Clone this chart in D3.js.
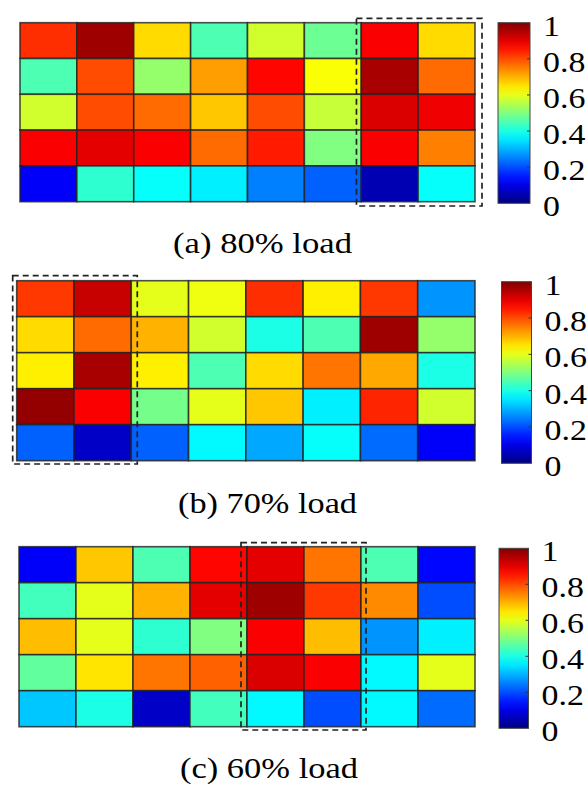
<!DOCTYPE html>
<html>
<head>
<meta charset="utf-8">
<script src="https://cdn.jsdelivr.net/npm/d3@7"></script>
<style>
  body { margin: 0; background: #fff; }
  svg text { font-family: "Liberation Serif", "Times New Roman", serif; fill: #000; }
</style>
</head>
<body>
<div id="chart"></div>
<script>
// values, rows top -> bottom, columns left -> right
var load80 = [
  [0.83, 0.97, 0.66, 0.45, 0.58, 0.48, 0.88, 0.66],
  [0.45, 0.80, 0.52, 0.72, 0.87, 0.62, 0.96, 0.77],
  [0.58, 0.80, 0.77, 0.68, 0.80, 0.57, 0.91, 0.89],
  [0.88, 0.90, 0.88, 0.77, 0.85, 0.50, 0.88, 0.75],
  [0.12, 0.42, 0.38, 0.36, 0.25, 0.22, 0.05, 0.38]
];
var load70 = [
  [0.82, 0.93, 0.60, 0.61, 0.83, 0.64, 0.82, 0.27],
  [0.66, 0.77, 0.70, 0.58, 0.40, 0.45, 0.97, 0.52],
  [0.64, 0.96, 0.64, 0.45, 0.66, 0.76, 0.71, 0.40],
  [0.98, 0.88, 0.49, 0.60, 0.68, 0.36, 0.84, 0.58],
  [0.22, 0.07, 0.22, 0.37, 0.29, 0.38, 0.23, 0.12]
];
var load60 = [
  [0.12, 0.68, 0.45, 0.87, 0.90, 0.76, 0.45, 0.13],
  [0.44, 0.60, 0.70, 0.90, 0.97, 0.82, 0.74, 0.20],
  [0.69, 0.60, 0.42, 0.50, 0.88, 0.69, 0.27, 0.36],
  [0.47, 0.65, 0.76, 0.78, 0.91, 0.88, 0.37, 0.60],
  [0.32, 0.40, 0.07, 0.44, 0.37, 0.20, 0.37, 0.23]
];
var captions = ["(a) 80% load", "(b) 70% load", "(c) 60% load"];
var highlightCols = [[6, 7], [0, 1], [4, 5]];   // dashed box columns
var colorTicks = [0, 0.2, 0.4, 0.6, 0.8, 1];

var W = 587, H = 787;
var stretch = 1.13;   // text in the figure is a bit wide

// MATLAB jet
function jet(t) {
  var c = function (v) { return Math.max(0, Math.min(1, v)); };
  var r = c(1.5 - Math.abs(4 * t - 3)),
      g = c(1.5 - Math.abs(4 * t - 2)),
      b = c(1.5 - Math.abs(4 * t - 1));
  return d3.rgb(r * 255, g * 255, b * 255).toString();
}
var color = d3.scaleSequential(jet).domain([0, 1]);

var svg = d3.select("#chart").append("svg")
  .attr("width", W).attr("height", H);

var grad = svg.append("defs").append("linearGradient").attr("id", "jetgrad")
  .attr("x1", 0).attr("y1", 1).attr("x2", 0).attr("y2", 0);
d3.range(0, 1.0001, 0.05).forEach(function (t) {
  grad.append("stop").attr("offset", t).attr("stop-color", color(t));
});

// panel geometry
var panels = [
  { data: load80, x0: 20, x1: 475, y0: 22.7, y1: 201.7, box: [-4.8, 7, 4.4, 4.3],
    cb: [498, 530, 22.7, 203.3], capX: 173, capY: 253, capW: 179 },
  { data: load70, x0: 16.7, x1: 475, y0: 280.7, y1: 460.7, box: [-4, 6, 5, 3.3],
    cb: [501.5, 531.5, 281.7, 463.3], capX: 178, capY: 513, capW: 179 },
  { data: load60, x0: 19, x1: 475, y0: 546.7, y1: 726.7, box: [-6, 5, 4, 3.3],
    cb: [499, 528.5, 548.3, 728.3], capX: 180, capY: 778, capW: 178 }
];

panels.forEach(function (p, i) {
  var g = svg.append("g");
  var nr = p.data.length, nc = p.data[0].length;

  var x = d3.scaleBand().domain(d3.range(nc)).range([p.x0, p.x1]);
  var y = d3.scaleBand().domain(d3.range(nr)).range([p.y0, p.y1]);

  var cells = [];
  p.data.forEach(function (row, r) {
    row.forEach(function (v, c) { cells.push({ r: r, c: c, v: v }); });
  });

  g.selectAll("rect.cell").data(cells).enter().append("rect")
    .attr("class", "cell")
    .attr("x", function (d) { return x(d.c); })
    .attr("y", function (d) { return y(d.r); })
    .attr("width", x.bandwidth())
    .attr("height", y.bandwidth())
    .attr("fill", function (d) { return color(d.v); })
    .attr("stroke", "#222")
    .attr("stroke-opacity", 0.8)
    .attr("stroke-width", 1.6);

  // dashed highlight box
  var hc = highlightCols[i], bx = p.box;
  g.append("rect")
    .attr("x", x(hc[0]) + bx[0])
    .attr("y", p.y0 - bx[2])
    .attr("width", x(hc[1]) + x.bandwidth() + bx[1] - (x(hc[0]) + bx[0]))
    .attr("height", p.y1 - p.y0 + bx[2] + bx[3])
    .attr("fill", "none")
    .attr("stroke", "#222")
    .attr("stroke-width", 1.7)
    .attr("stroke-dasharray", "6,4");

  // colorbar
  var cb = p.cb;
  g.append("rect")
    .attr("x", cb[0]).attr("y", cb[2])
    .attr("width", cb[1] - cb[0]).attr("height", cb[3] - cb[2])
    .attr("fill", "url(#jetgrad)")
    .attr("stroke", "#444").attr("stroke-width", 1);

  var cy = d3.scaleLinear().domain([0, 1]).range([cb[3], cb[2]]);
  var ax = g.append("g")
    .attr("transform", "translate(" + cb[1] + ",0)")
    .call(d3.axisRight(cy).tickValues(colorTicks).tickSize(0)
      .tickFormat(function (d) { return d === 0 || d === 1 ? d3.format("d")(d) : d3.format(".1f")(d); }));
  ax.select(".domain").remove();
  ax.selectAll("text")
    .attr("x", 13 / stretch)
    .attr("dy", "0.42em")
    .attr("transform", "scale(" + stretch + ",1)")
    .attr("fill", "#000")
    .style("font-family", '"Liberation Serif", "Times New Roman", serif')
    .style("font-size", "30px");

  // small ticks on the colorbar edges
  g.selectAll("line.cbt").data(colorTicks.slice(1, -1)).enter().append("line")
    .attr("x1", cb[1] - 3).attr("x2", cb[1])
    .attr("y1", function (d) { return cy(d); }).attr("y2", function (d) { return cy(d); })
    .attr("stroke", "#333").attr("stroke-width", 1);

  // caption
  g.append("text")
    .attr("x", p.capX).attr("y", p.capY)
    .attr("textLength", p.capW)
    .attr("lengthAdjust", "spacingAndGlyphs")
    .style("font-size", "30px")
    .text(captions[i]);
});
</script>
</body>
</html>
